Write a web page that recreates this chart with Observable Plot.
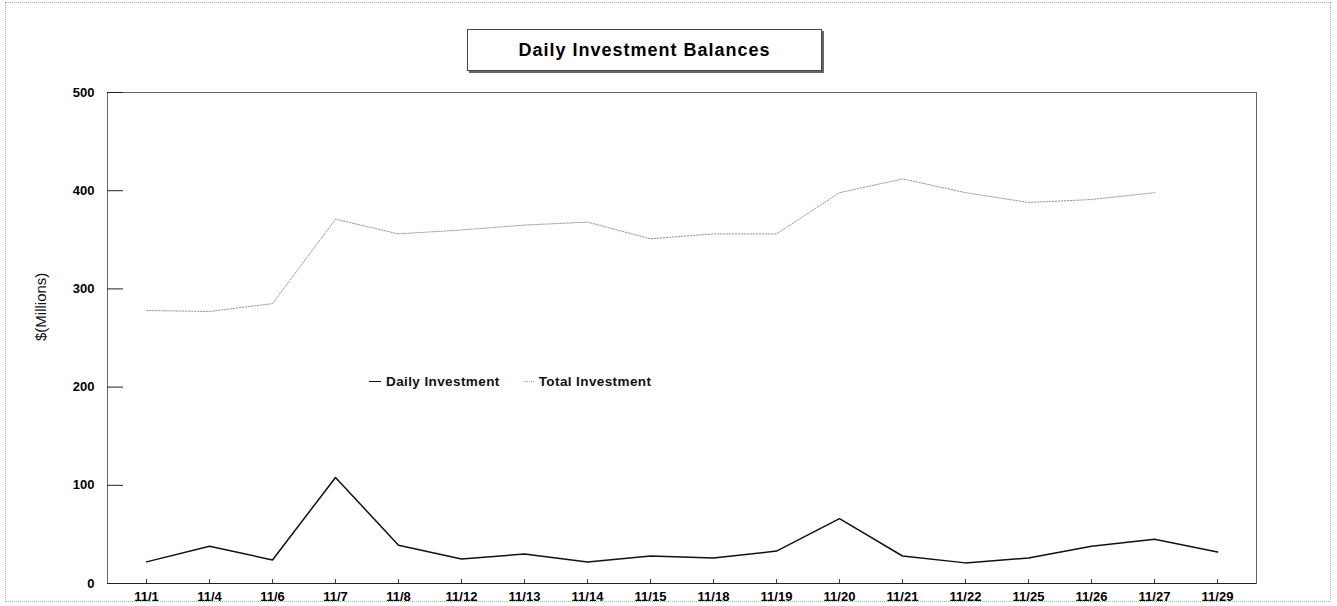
<!DOCTYPE html>
<html>
<head>
<meta charset="utf-8">
<script src="https://cdn.jsdelivr.net/npm/d3@7"></script>
<script src="https://cdn.jsdelivr.net/npm/@observablehq/plot@0.6"></script>
<style>
  html, body { margin: 0; padding: 0; background: #fff; }
  #wrap { position: relative; width: 1337px; height: 606px; overflow: hidden; font-family: "Liberation Sans", Arial, sans-serif; }
  #border { position: absolute; left: 5px; top: 2px; width: 1326px; height: 600px; border: 1px dotted #aaa; box-sizing: border-box; pointer-events: none; }
  #title { position: absolute; left: 467px; top: 29px; width: 353px; height: 40px; border: 1px solid #444; box-shadow: 2px 2px 0 #666; background: #fff; display: flex; align-items: center; justify-content: center; font-weight: bold; font-size: 18px; letter-spacing: 1px; color: #000; }
  #legend { position: absolute; top: 374px; left: 369px; display: flex; align-items: center; font-weight: bold; font-size: 13.5px; letter-spacing: 0.4px; color: #111; }
  .sw { display: inline-block; width: 12px; height: 0; margin-right: 5px; }
  .item { display: flex; align-items: center; }
  #chart { position: absolute; left: 0; top: 0; }
</style>
</head>
<body>
<div id="wrap">
  <div id="chart"></div>
  <div id="border"></div>
  <div id="title">Daily Investment Balances</div>
  <div id="legend">
    <div class="item" style="margin-right:25px"><span class="sw" style="border-top:1.5px solid #111"></span>Daily Investment</div>
    <div class="item"><span class="sw" style="border-top:1px dotted #999; width:9px"></span>Total Investment</div>
  </div>
</div>
<script>
const dates = ["11/1","11/4","11/6","11/7","11/8","11/12","11/13","11/14","11/15","11/18","11/19","11/20","11/21","11/22","11/25","11/26","11/27","11/29"];
const daily = [22, 38, 24, 108, 39, 25, 30, 22, 28, 26, 33, 66, 28, 21, 26, 38, 45, 32];
const total = [278, 277, 285, 371, 356, 360, 365, 368, 351, 356, 356, 398, 412, 398, 388, 391, 398, null];
const yTicks = [0, 100, 200, 300, 400, 500];

const dailyData = dates.map((d, i) => ({date: d, value: daily[i]}));
const totalData = dates.map((d, i) => ({date: d, value: total[i]}));

const chart = Plot.plot({
  width: 1337,
  height: 606,
  marginLeft: 107,
  marginRight: 81,
  marginTop: 92,
  marginBottom: 23,
  style: {fontFamily: "'Liberation Sans', Arial, sans-serif", fontSize: "13px", background: "transparent", color: "#000"},
  x: {type: "point", domain: dates, padding: 0.57},
  y: {domain: [0, 500]},
  marks: [
    Plot.frame({stroke: "#666"}),
    Plot.axisY({ticks: yTicks, tickSize: -16, text: null, label: null, stroke: "#222"}),
    Plot.axisY({ticks: yTicks, tickSize: 0, tickPadding: 13, fontWeight: "bold", fontSize: 13, label: null}),
    Plot.axisX({tickSize: -4, text: null, label: null, stroke: "#444"}),
    Plot.axisX({tickSize: 0, tickPadding: 8, fontWeight: "bold", fontSize: 13, label: null}),
    Plot.ruleY([0], {stroke: "#222"}),
    Plot.text(["$(Millions)"], {frameAnchor: "left", dx: -66, dy: 3, rotate: -90, fontSize: 15, fill: "#111"}),
    Plot.line(totalData, {x: "date", y: "value", stroke: "#999", strokeWidth: 1, strokeDasharray: "1.5,1.5"}),
    Plot.line(dailyData, {x: "date", y: "value", stroke: "#111", strokeWidth: 1.5})
  ]
});
document.getElementById("chart").appendChild(chart);
</script>
</body>
</html>
